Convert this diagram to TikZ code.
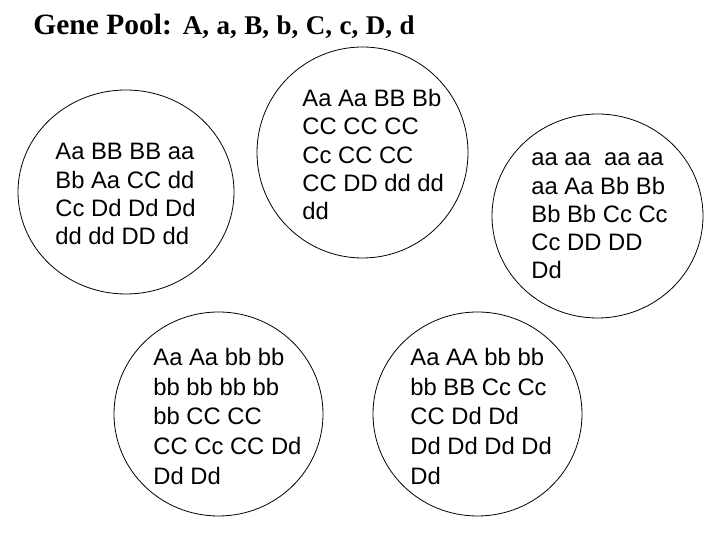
\documentclass[tikz,border=0pt]{standalone}
\usepackage{fontspec}
\setmainfont{Liberation Serif}
\newfontfamily\arialish{Liberation Sans}
\usetikzlibrary{shapes.geometric}

\begin{document}
\begin{tikzpicture}[x=1pt, y=1pt, line width=0.8pt,
    ring/.style={draw, ellipse, inner sep=0pt},
    pool/.style={anchor=north west, inner sep=0pt, align=left,
        font=\arialish\fontsize{23.8}{28.3}\selectfont},
    lowpool/.style={pool, font=\arialish\fontsize{23.8}{29.6}\selectfont}]
    \useasboundingbox (0,0) rectangle (720,540);

    % title
    \node[anchor=base west, inner sep=0pt, font=\bfseries] (title) at (33,505)
        {{\fontsize{29.5}{34}\selectfont Gene Pool:}\hspace{11pt}%
         {\fontsize{27}{31}\selectfont\spaceskip=7.5pt A, a, B, b, C, c, D, d}};

    % populations
    \node[ring, minimum width=216pt, minimum height=204pt] (ring1) at (126,348) {};
    \node[ring, minimum width=211pt, minimum height=211pt] (ring2) at (362.5,387.5) {};
    \node[ring, minimum width=211pt, minimum height=204pt] (ring3) at (597.5,324) {};
    \node[ring, minimum width=209pt, minimum height=204pt] (ring4) at (218.5,126) {};
    \node[ring, minimum width=209pt, minimum height=204pt] (ring5) at (477.5,126) {};

    \node[pool] (pop1) at (55,397)
        {Aa BB BB aa\\ Bb Aa CC dd\\ Cc Dd Dd Dd\\ dd dd DD dd};
    \node[pool] (pop2) at (302,451)
        {Aa Aa BB Bb\\ CC CC CC\\ Cc CC CC\\ CC DD dd dd\\ dd};
    \node[pool] (pop3) at (531,387.5)
        {aa aa \ aa aa\\ aa Aa Bb Bb\\ Bb Bb Cc Cc\\ Cc DD DD\\ Dd};
    \node[lowpool] (pop4) at (153,192)
        {Aa Aa bb bb\\ bb bb bb bb\\ bb CC CC\\ CC Cc CC Dd\\ Dd Dd};
    \node[lowpool] (pop5) at (410,192)
        {Aa AA bb bb\\ bb BB Cc Cc\\ CC Dd Dd\\ Dd Dd Dd Dd\\ Dd};
\end{tikzpicture}
\end{document}
